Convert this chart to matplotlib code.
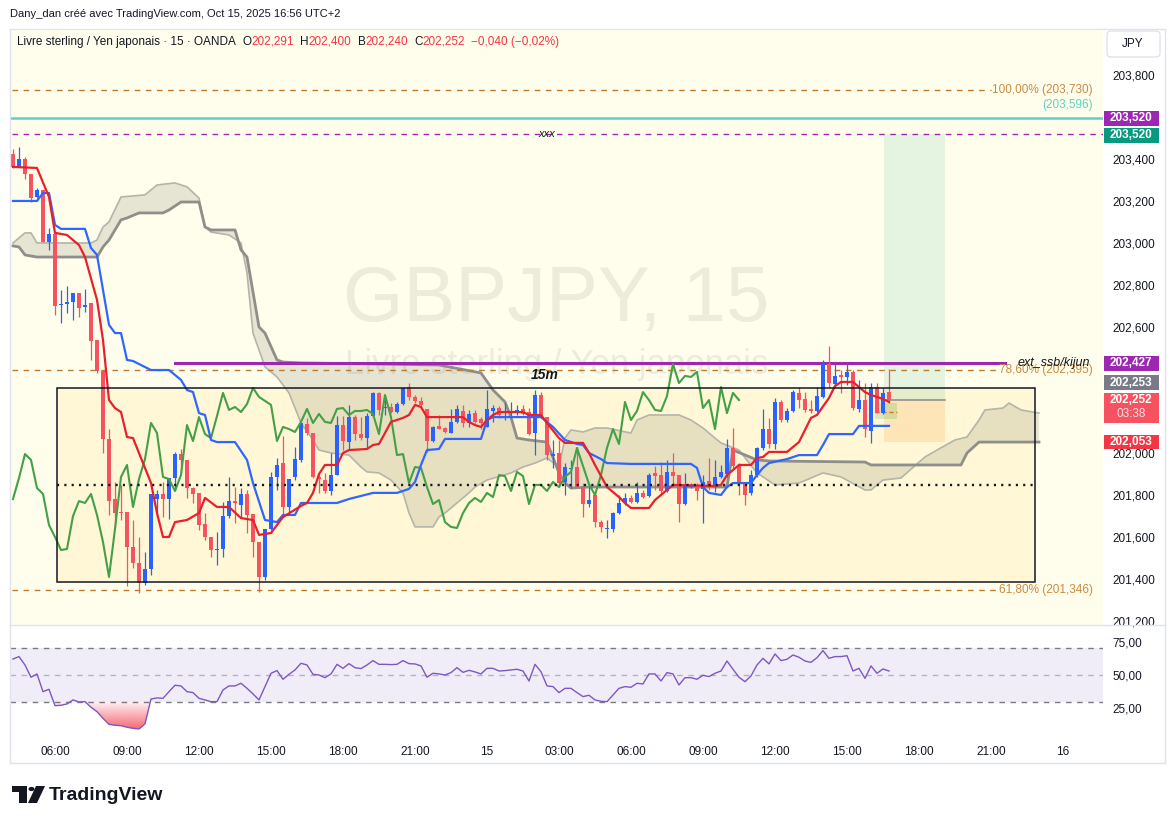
import matplotlib
matplotlib.use('Agg')
import matplotlib.pyplot as plt
import numpy as np
from matplotlib.patches import Rectangle, Polygon, FancyBboxPatch, Circle
from matplotlib.transforms import blended_transform_factory
from matplotlib.path import Path
from matplotlib.lines import Line2D
from matplotlib.colors import to_rgb

plt.rcParams['font.family'] = ['Liberation Sans', 'DejaVu Sans']

# ---- data (bar 0 = Oct 14 06:00, 15 min per bar) ----
first_bar = -7
opens = [203.424, 203.362, 203.400, 203.328, 203.219, 203.252, 203.005,
         203.043, 202.705, 202.710, 202.719, 202.762, 202.695, 202.714, 202.538, 202.390, 202.067,
         201.781, 201.719, 201.719, 201.552, 201.476, 201.381, 201.448, 201.781, 201.805, 201.781,
         201.881, 201.995, 201.967, 201.833, 201.810, 201.662, 201.600, 201.538, 201.543, 201.700,
         201.771, 201.752, 201.805, 201.710, 201.576, 201.410, 201.638, 201.886, 201.952, 201.743,
         201.886, 201.967, 202.138, 202.095, 201.886, 201.871, 201.819, 201.895, 202.133, 202.052,
         202.171, 202.090, 202.071, 202.176, 202.286, 202.214, 202.219, 202.195, 202.233, 202.314,
         202.267, 202.248, 202.210, 202.057, 202.129, 202.119, 202.095, 202.148, 202.200, 202.143,
         202.190, 202.162, 202.124, 202.200, 202.214, 202.190, 202.190, 202.190, 202.210, 202.195,
         202.095, 202.276, 202.171, 201.986, 202.000, 201.862, 201.924, 201.933, 201.838, 201.757,
         201.800, 201.671, 201.638, 201.638, 201.714, 201.762, 201.786, 201.767, 201.810, 201.795,
         201.905, 201.895, 201.819, 201.910, 201.895, 201.757, 201.838, 201.848, 201.829, 201.867,
         201.838, 201.886, 201.900, 202.024, 201.943, 201.852, 201.810, 201.895, 202.024, 202.114,
         202.043, 202.243, 202.157, 202.200, 202.286, 202.257, 202.210, 202.200, 202.267, 202.424,
         202.329, 202.371, 202.362, 202.386, 202.210, 202.252, 202.105, 202.314, 202.190, 202.291]
highs = [203.448, 203.457, 203.409, 203.328, 203.262, 203.252, 203.071,
         203.048, 202.776, 202.795, 202.762, 202.762, 202.781, 202.714, 202.538, 202.390, 202.114,
         201.862, 201.848, 201.719, 201.681, 201.600, 201.529, 201.805, 201.824, 201.862, 201.881,
         202.005, 202.019, 201.967, 201.838, 201.810, 201.714, 201.600, 201.624, 201.767, 201.886,
         201.838, 201.833, 201.824, 201.710, 201.576, 201.638, 201.910, 201.976, 202.081, 201.876,
         202.029, 202.143, 202.167, 202.095, 201.910, 201.905, 202.000, 202.176, 202.176, 202.229,
         202.181, 202.171, 202.190, 202.290, 202.290, 202.276, 202.238, 202.243, 202.310, 202.333,
         202.276, 202.267, 202.210, 202.129, 202.181, 202.124, 202.210, 202.229, 202.229, 202.205,
         202.205, 202.171, 202.300, 202.229, 202.224, 202.238, 202.243, 202.229, 202.229, 202.214,
         202.300, 202.290, 202.171, 202.062, 202.062, 201.952, 201.967, 202.029, 201.857, 201.838,
         201.800, 201.681, 201.681, 201.719, 201.800, 201.810, 201.800, 201.862, 201.824, 201.905,
         201.938, 201.957, 201.967, 202.000, 201.895, 201.905, 201.857, 201.857, 201.895, 201.976,
         201.967, 201.943, 202.067, 202.119, 201.952, 201.862, 201.919, 202.029, 202.210, 202.167,
         202.262, 202.252, 202.214, 202.300, 202.314, 202.290, 202.252, 202.314, 202.443, 202.510,
         202.429, 202.395, 202.433, 202.395, 202.348, 202.333, 202.333, 202.333, 202.310, 202.400]
lows = [203.357, 203.362, 203.305, 203.195, 203.214, 203.005, 202.967,
        202.657, 202.619, 202.667, 202.633, 202.648, 202.671, 202.443, 202.381, 202.000, 201.705,
        201.648, 201.681, 201.367, 201.452, 201.333, 201.371, 201.419, 201.695, 201.695, 201.686,
        201.824, 201.905, 201.786, 201.762, 201.633, 201.586, 201.505, 201.467, 201.505, 201.690,
        201.667, 201.695, 201.619, 201.505, 201.338, 201.395, 201.633, 201.824, 201.695, 201.719,
        201.871, 201.957, 202.086, 201.881, 201.810, 201.810, 201.800, 201.895, 202.014, 202.014,
        202.062, 202.062, 202.024, 202.171, 202.181, 202.181, 202.190, 202.190, 202.229, 202.252,
        202.238, 202.219, 202.005, 202.052, 202.114, 202.095, 202.095, 202.143, 202.124, 202.124,
        202.143, 202.114, 202.124, 202.148, 202.167, 202.157, 202.167, 202.181, 202.181, 202.086,
        201.990, 202.167, 201.967, 201.929, 201.838, 201.800, 201.833, 201.833, 201.695, 201.743,
        201.648, 201.624, 201.595, 201.624, 201.710, 201.752, 201.762, 201.762, 201.786, 201.790,
        201.824, 201.810, 201.814, 201.848, 201.671, 201.752, 201.833, 201.776, 201.667, 201.824,
        201.814, 201.881, 201.886, 201.929, 201.800, 201.752, 201.800, 201.886, 202.014, 202.024,
        202.019, 202.148, 202.148, 202.195, 202.214, 202.195, 202.190, 202.195, 202.262, 202.314,
        202.314, 202.286, 202.324, 202.205, 202.195, 202.076, 202.048, 202.190, 202.186, 202.240]
closes = [203.362, 203.400, 203.328, 203.214, 203.252, 203.005, 203.043,
          202.700, 202.710, 202.719, 202.762, 202.690, 202.705, 202.533, 202.390, 202.067, 201.771,
          201.714, 201.714, 201.552, 201.476, 201.381, 201.448, 201.805, 201.805, 201.781, 201.881,
          201.995, 201.967, 201.833, 201.805, 201.657, 201.600, 201.538, 201.543, 201.700, 201.771,
          201.762, 201.805, 201.705, 201.576, 201.410, 201.638, 201.886, 201.943, 201.743, 201.876,
          201.971, 202.143, 202.095, 201.886, 201.876, 201.819, 201.895, 202.133, 202.057, 202.171,
          202.090, 202.071, 202.176, 202.286, 202.205, 202.219, 202.195, 202.233, 202.310, 202.267,
          202.248, 202.229, 202.057, 202.124, 202.114, 202.100, 202.148, 202.210, 202.143, 202.186,
          202.148, 202.143, 202.210, 202.214, 202.181, 202.200, 202.200, 202.205, 202.186, 202.090,
          202.276, 202.171, 201.990, 201.995, 201.857, 201.933, 201.929, 201.838, 201.757, 201.776,
          201.671, 201.648, 201.643, 201.714, 201.762, 201.786, 201.767, 201.810, 201.790, 201.895,
          201.890, 201.819, 201.910, 201.890, 201.757, 201.848, 201.848, 201.819, 201.862, 201.838,
          201.886, 201.910, 202.024, 201.938, 201.852, 201.800, 201.895, 202.024, 202.114, 202.043,
          202.243, 202.157, 202.200, 202.290, 202.252, 202.205, 202.200, 202.271, 202.424, 202.333,
          202.367, 202.362, 202.386, 202.214, 202.252, 202.114, 202.314, 202.190, 202.286, 202.252]

tenkan_bar = [-7, -3, -1, 0, 2, 4, 5, 7, 8, 9, 10, 11, 12, 13, 14, 16, 17, 18, 19, 20,
              22, 24, 25, 27, 29, 31, 33, 34, 36, 38, 41, 42, 43, 44, 45, 47, 48, 49, 52, 53,
              54, 55, 56, 58, 59, 60, 61, 62, 68, 69, 70, 71, 72, 73, 74, 78, 79, 81, 82, 84,
              85, 88, 89, 90, 92, 94, 95, 96, 99, 100, 102, 103, 110, 111, 112, 114, 116, 117, 118, 119,
              122, 124, 126, 127, 129, 130, 131, 133, 134, 135, 136, 137, 138, 139]
tenkan_val = [203.362, 203.357, 203.219, 203.048, 203.038, 202.990, 202.933, 202.729, 202.538, 202.252,
              202.214, 202.195, 202.076, 202.071, 202.000, 201.857, 201.714, 201.600, 201.600, 201.671,
              201.681, 201.714, 201.786, 201.743, 201.743, 201.690, 201.681, 201.610, 201.619, 201.695,
              201.748, 201.762, 201.810, 201.900, 201.943, 201.943, 202.000, 202.014, 202.019, 202.038,
              202.043, 202.095, 202.148, 202.167, 202.181, 202.229, 202.219, 202.171, 202.171, 202.148,
              202.133, 202.124, 202.157, 202.181, 202.195, 202.195, 202.181, 202.181, 202.143, 202.071,
              202.048, 202.048, 202.000, 201.943, 201.838, 201.790, 201.762, 201.738, 201.738, 201.776,
              201.824, 201.848, 201.843, 201.848, 201.895, 201.943, 201.943, 201.976, 201.981, 202.005,
              202.005, 202.052, 202.167, 202.181, 202.262, 202.319, 202.338, 202.338, 202.314, 202.290,
              202.276, 202.267, 202.257, 202.243]

kijun_bar = [-7, -3, -2, -1, 0, 1, 5, 6, 7, 9, 10, 11, 12, 13, 16, 19, 21, 22, 23, 24,
             25, 26, 27, 30, 32, 33, 35, 37, 38, 40, 41, 47, 49, 53, 57, 59, 60, 61, 62, 64,
             65, 71, 72, 73, 81, 83, 85, 87, 88, 89, 91, 92, 96, 106, 107, 108, 109, 111, 112, 113,
             116, 117, 118, 119, 122, 124, 127, 128, 129, 133, 134, 139]
kijun_val = [203.200, 203.200, 203.238, 203.238, 203.086, 203.067, 203.067, 202.976, 202.943, 202.610,
             202.571, 202.571, 202.443, 202.438, 202.395, 202.395, 202.348, 202.300, 202.290, 202.190,
             202.181, 202.062, 202.052, 202.052, 201.967, 201.857, 201.681, 201.671, 201.705, 201.705,
             201.762, 201.762, 201.781, 201.810, 201.810, 201.829, 201.862, 201.943, 202.014, 202.019,
             202.067, 202.067, 202.157, 202.171, 202.171, 202.124, 202.062, 202.043, 202.038, 202.000,
             201.971, 201.952, 201.948, 201.948, 201.929, 201.838, 201.810, 201.800, 201.838, 201.857,
             201.857, 201.895, 201.929, 201.952, 201.971, 201.990, 201.990, 202.038, 202.090, 202.090,
             202.129, 202.129]

span_a_bar = [-7, -5, -4, -3, 6, 7, 8, 9, 11, 15, 17, 20, 22, 24, 25, 26, 29, 31, 32, 33,
              35, 37, 39, 41, 43, 44, 46, 49, 51, 52, 54, 56, 58, 59, 60, 63, 64, 65, 69, 70,
              72, 76, 78, 80, 82, 84, 85, 86, 88, 90, 92, 96, 97, 99, 104, 106, 108, 110, 111, 114,
              117, 120, 124, 128, 131, 135, 136, 138, 141, 145, 147, 150, 152, 154, 155, 158, 159, 161, 163, 164]
span_a_val = [203.000, 203.048, 203.048, 203.000, 203.000, 203.014, 203.076, 203.100, 203.219, 203.229,
              203.276, 203.286, 203.267, 203.214, 203.076, 203.052, 203.038, 203.000, 202.857, 202.571,
              202.410, 202.362, 202.286, 202.143, 202.062, 202.014, 202.000, 201.990, 201.933, 201.910,
              201.905, 201.871, 201.810, 201.714, 201.648, 201.648, 201.695, 201.714, 201.810, 201.838,
              201.871, 201.905, 201.933, 201.952, 201.976, 201.933, 202.071, 202.110, 202.100, 202.119,
              202.119, 202.095, 202.157, 202.181, 202.181, 202.157, 202.119, 202.071, 202.048, 202.014,
              201.905, 201.848, 201.857, 201.905, 201.886, 201.824, 201.824, 201.871, 201.881, 201.981,
              202.014, 202.062, 202.076, 202.157, 202.205, 202.214, 202.238, 202.205, 202.195, 202.190]
span_b_bar = [-7, -6, -5, -3, 7, 8, 9, 11, 12, 14, 18, 19, 21, 24, 25, 26, 30, 31, 32, 34,
              35, 37, 38, 41, 64, 71, 73, 75, 76, 77, 79, 82, 84, 85, 86, 89, 112, 113, 117, 119,
              135, 136, 151, 152, 154, 164]
span_b_val = [202.986, 202.981, 202.943, 202.933, 202.933, 202.981, 203.014, 203.110, 203.119, 203.143,
              203.143, 203.157, 203.195, 203.195, 203.076, 203.062, 203.062, 202.967, 202.933, 202.600,
              202.571, 202.443, 202.433, 202.429, 202.419, 202.381, 202.300, 202.243, 202.171, 202.071,
              202.062, 202.052, 201.905, 201.857, 201.833, 201.838, 201.838, 202.014, 201.967, 201.962,
              201.957, 201.943, 201.943, 202.000, 202.052, 202.052]
chikou_shift = 25

rsi = [62.0, 63.8, 57.5, 48.3, 50.8, 37.5, 39.3,
       27.0, 27.3, 28.3, 31.3, 29.8, 30.0, 25.8, 22.5, 17.5, 13.0,
       12.3, 12.0, 10.8, 10.0, 9.5, 13.3, 32.0, 32.8, 32.5, 37.5,
       42.3, 41.8, 37.5, 36.8, 32.5, 31.3, 30.0, 30.0, 38.8, 41.8,
       41.8, 43.8, 40.0, 35.8, 31.3, 41.3, 51.3, 53.3, 46.8, 50.5,
       53.8, 58.8, 57.5, 50.5, 50.0, 48.0, 50.8, 58.0, 55.0, 58.5,
       55.5, 54.8, 57.5, 60.8, 58.0, 58.0, 57.8, 58.0, 60.8, 58.5,
       58.3, 56.8, 48.3, 51.3, 50.8, 50.0, 51.8, 55.5, 52.0, 53.5,
       52.3, 50.8, 55.0, 55.0, 53.0, 53.3, 53.8, 54.3, 53.0, 45.5,
       58.0, 52.5, 41.8, 41.3, 36.8, 40.0, 40.0, 36.8, 33.8, 34.8,
       31.3, 30.3, 30.0, 35.0, 40.0, 41.3, 40.8, 43.8, 43.3, 50.8,
       50.8, 45.5, 51.8, 50.8, 42.5, 48.0, 48.0, 46.8, 49.8, 48.8,
       51.3, 53.0, 60.5, 54.3, 48.3, 45.0, 49.3, 57.5, 62.5, 58.3,
       65.8, 60.8, 61.8, 65.0, 63.3, 60.5, 59.5, 63.0, 68.3, 62.5,
       63.8, 63.8, 64.5, 53.0, 55.0, 47.5, 56.8, 51.3, 54.5, 53.0]

time_ticks = [0, 12, 24, 36, 48, 60, 72, 84, 96, 108, 120, 132, 144, 156, 168]
time_labels = ['06:00', '09:00', '12:00', '15:00', '18:00', '21:00', '15', '03:00',
               '06:00', '09:00', '12:00', '15:00', '18:00', '21:00', '16']
# price levels whose axis labels are hidden behind the coloured tags
hidden_ticks = [202.2, 202.4, 203.6]

fib_100 = 203.730
fib_786 = 202.395
fib_618 = 201.346
teal_level = 203.596
target_level = 203.520
ssb_level = 202.427
entry_level = 202.253
stop_level = 202.053
range_top = 202.310
range_bottom = 201.386
range_mid = 201.848

BULL = '#2962ff'
BEAR = '#f7525f'
TXT = '#131722'
CREAM = '#fffeec'
PURPLE = '#9c27b0'
FIB = '#c07a2e'

W, H = 1175, 824
fig = plt.figure(figsize=(W / 100, H / 100), dpi=100)
fig.patch.set_facecolor('white')


def fx(px):
    return px / W


def fy(py):
    return 1 - py / H


ax = fig.add_axes([fx(10), fy(625), fx(1103) - fx(10), fy(30) - fy(625)])
rx = fig.add_axes([fx(10), fy(736), fx(1103) - fx(10), fy(625) - fy(736)])
XMIN, XMAX = -7.5, 174.67
YMIN, YMAX = 201.181, 204.014
ppx = 595 / (YMAX - YMIN)

ax.set_facecolor(CREAM)
for a in (ax, rx):
    for s in a.spines.values():
        s.set_visible(False)

bars = np.arange(first_bar, first_bar + len(opens))
o = np.array(opens)
hi = np.array(highs)
lo = np.array(lows)
c = np.array(closes)

# watermark
ax.text(0.5, 0.546, 'GBPJPY, 15', transform=ax.transAxes, ha='center', va='center',
        fontsize=56, color='#ecebdc', zorder=0.5)
ax.text(0.5, 0.437, 'Livre sterling / Yen japonais', transform=ax.transAxes, ha='center',
        va='center', fontsize=25, color='#ecebdc', zorder=0.5)

# range box
ax.add_patch(Rectangle((0.33, range_bottom), 163.0, range_top - range_bottom,
                       facecolor='#fff3c4', alpha=0.55, edgecolor='none', zorder=1))
ax.add_patch(Rectangle((0.33, range_bottom), 163.0, range_top - range_bottom,
                       facecolor='none', edgecolor='#131722', lw=1.1, zorder=6))
ax.plot([0.33, 163.33], [range_mid, range_mid], color='#131722', lw=1.7,
        linestyle=(0, (0.9, 2.2)), zorder=6)
ax.text(81.7, 202.371, '15m', fontsize=10, fontweight='bold', style='italic',
        color=TXT, ha='center', va='center', zorder=7)

# long position tool
ax.add_patch(Rectangle((138.2, entry_level), 10.1, target_level - entry_level,
                       facecolor='#089981', alpha=0.1, edgecolor='none', zorder=1.2))
ax.add_patch(Rectangle((138.2, stop_level), 10.1, entry_level - stop_level,
                       facecolor='#f57c00', alpha=0.14, edgecolor='none', zorder=1.2))
ax.plot([138.2, 148.3], [entry_level, entry_level], color='#8a8a8a', lw=1.1, zorder=1.3)
ax.add_patch(Rectangle((136.7, 202.162), 3.6, 0.076, facecolor='#4caf50', alpha=0.22,
                       edgecolor='none', zorder=1.3))
ax.plot([136.7, 140.3], [202.195, 202.195], color='#e07020', lw=1, linestyle=(0, (3, 2)), zorder=1.4)

# ichimoku cloud
cloud = Polygon(list(zip(span_a_bar, span_a_val)) + list(zip(span_b_bar, span_b_val))[::-1],
                closed=True, facecolor='#787864', alpha=0.18, edgecolor='none', zorder=2)
ax.add_patch(cloud)
ax.plot(span_a_bar, span_a_val, color='#b4b4aa', lw=1.2, zorder=2.1)
ax.plot(span_b_bar, span_b_val, color='#8e8e8a', lw=2.0, zorder=2.1)

# fib / horizontal levels
ax.plot([-7.2, 156], [fib_100, fib_100], color=FIB, lw=1, linestyle=(0, (4, 4)), zorder=3)
ax.plot([-7.2, 157.5], [fib_786, fib_786], color=FIB, lw=1, linestyle=(0, (4, 4)), zorder=3)
ax.plot([-7.2, 157.3], [fib_618, fib_618], color=FIB, lw=1, linestyle=(0, (4, 4)), zorder=3)
ax.axhline(teal_level, color='#5cd0c6', lw=1.8, zorder=3)
ax.plot([-7.2, XMAX], [target_level, target_level], color=PURPLE, lw=1, linestyle=(0, (4, 4)), zorder=3)
ax.plot([20, 158.3], [ssb_level, ssb_level], color=PURPLE, lw=2.2, zorder=3.2)
ax.text(82, target_level, 'xxx', fontsize=8, style='italic', color=TXT, ha='center',
        va='center', zorder=7)

lab_tr = blended_transform_factory(ax.transAxes, ax.transData)
ax.text((1093 - 10) / 1093, fib_100, '100,00% (203,730)', transform=lab_tr, ha='right',
        va='center', fontsize=8.5, color='#c98a44', zorder=7)
ax.text((1093 - 10) / 1093, teal_level + 13 / ppx, '(203,596)', transform=lab_tr, ha='right',
        va='center', fontsize=8.5, color='#5cd0c6', zorder=7)
ax.text((1093 - 10) / 1093, fib_786, '78,60% (202,395)', transform=lab_tr, ha='right',
        va='center', fontsize=8.5, color='#c98a44', zorder=7)
ax.text((1093 - 10) / 1093, fib_618, '61,80% (201,346)', transform=lab_tr, ha='right',
        va='center', fontsize=8.5, color='#c98a44', zorder=7)
ax.text((1090 - 10) / 1093, ssb_level, 'ext_ssb/kijun', transform=lab_tr, ha='right',
        va='center', fontsize=9, style='italic', color=TXT, zorder=7.5)

# candles
cols = np.where(c >= o, BULL, BEAR)
ax.vlines(bars, lo, hi, colors=cols, lw=0.9, zorder=4)
ax.bar(bars, np.maximum(np.abs(c - o), 0.004), bottom=np.minimum(o, c), width=0.68,
       color=cols, linewidth=0, zorder=4.1)

# ichimoku lines
ax.plot(bars[:-chikou_shift], c[chikou_shift:], color='#43a047', lw=1.5, zorder=5)
ax.plot(kijun_bar, kijun_val, color='#2f66ff', lw=1.6, zorder=5.1)
ax.plot(tenkan_bar, tenkan_val, color='#e8202c', lw=1.6, zorder=5.2)

ax.set_xlim(XMIN, XMAX)
ax.set_ylim(YMIN, YMAX)
ax.set_xticks([])
ticks = np.round(np.arange(201.2, 203.81, 0.2), 1)
ax.set_yticks(ticks, ['' if t in hidden_ticks else f'{t:.3f}'.replace('.', ',') for t in ticks])
ax.yaxis.tick_right()
ax.tick_params(axis='y', length=0, pad=7, labelsize=8.5, labelcolor=TXT)


# price tags on the axis
def tag(price, text, bg, shift_px=0.0, hgt_px=15, sub=None):
    y = price + shift_px / ppx
    top = y + 7.5 / ppx
    ax.add_patch(Rectangle((1.0008, top - hgt_px / ppx), 55 / 1093, hgt_px / ppx, transform=lab_tr,
                           facecolor=bg, edgecolor='none', clip_on=False, zorder=20))
    ax.text(1.0008 + 27.5 / 1093, y, text, transform=lab_tr, ha='center', va='center',
            color='white', fontsize=8.5, fontweight='bold', clip_on=False, zorder=21)
    if sub:
        ax.text(1.0008 + 27.5 / 1093, y - 14 / ppx, sub, transform=lab_tr, ha='center',
                va='center', color='#ffe0e3', fontsize=8.5, clip_on=False, zorder=21)


tag(target_level, '203,520', PURPLE, shift_px=15.5)
tag(target_level, '203,520', '#089981', shift_px=-1.5)
tag(ssb_level, '202,427', PURPLE)
tag(entry_level, '202,253', '#787b86', shift_px=17)
tag(c[-1], '202,252', BEAR, shift_px=0, hgt_px=30, sub='03:38')
tag(stop_level, '202,053', '#f23645', shift_px=-0.5, hgt_px=14)

# RSI pane
rsi_a = np.array(rsi)
rx.set_facecolor('white')
rx.fill_between([XMIN, XMAX], 30, 70, color='#7e57c2', alpha=0.1, linewidth=0, zorder=1)
for lvl, al in ((70, 1.0), (50, 0.5), (30, 1.0)):
    rx.axhline(lvl, color='#787b86', lw=1, linestyle=(0, (4, 4)), alpha=al, zorder=1.5)
low_zone = rx.fill_between(bars, rsi_a, 30, where=rsi_a < 30, interpolate=True,
                           color='none', linewidth=0)
clip = Path.make_compound_path(*low_zone.get_paths())
grad = np.zeros((256, 1, 4))
grad[..., :3] = to_rgb('#f23645')
grad[:, 0, 3] = np.linspace(0.8, 0.05, 256)
img = rx.imshow(grad, extent=(XMIN, XMAX, 8, 30), origin='lower', aspect='auto', zorder=2)
img.set_clip_path(clip, rx.transData)
rx.plot(bars, rsi_a, color='#7e57c2', lw=1.0, zorder=3)
rx.set_xlim(XMIN, XMAX)
rx.set_ylim(4.25, 87.5)
rx.set_yticks([25, 50, 75], ['25,00', '50,00', '75,00'])
rx.yaxis.tick_right()
rx.tick_params(axis='y', length=0, pad=7, labelsize=8.5, labelcolor=TXT)
rx.set_xticks(time_ticks, time_labels)
rx.tick_params(axis='x', length=0, pad=7, labelsize=8.5, labelcolor=TXT)

# frame lines
for (x0, y0, x1, y1) in ((10, 29, 1165, 29), (10, 763, 1165, 763), (10, 29, 10, 763),
                         (1165, 29, 1165, 763), (10, 625, 1165, 625)):
    fig.add_artist(Line2D([fx(x0), fx(x1)], [fy(y0), fy(y1)], color='#e0e3eb', lw=1,
                          transform=fig.transFigure))

# JPY box
fig.add_artist(FancyBboxPatch((fx(1107), fy(57)), fx(53), 26 / H, boxstyle='round,pad=0,rounding_size=0.004',
                              facecolor='white', edgecolor='#e0e3eb', lw=1, transform=fig.transFigure))
fig.text(fx(1133), fy(44), 'JPY', ha='center', va='center', fontsize=8.5, color=TXT)

# header and legend
fig.text(fx(10), fy(14), 'Dany_dan créé avec TradingView.com, Oct 15, 2025 16:56 UTC+2',
         ha='left', va='center', fontsize=8, color=TXT)
renderer = fig.canvas.get_renderer()
pieces = [('Livre sterling / Yen japonais · 15 · OANDA', TXT, 7),
          ('O', TXT, 0), (f'{opens[-1]:.3f}'.replace('.', ','), '#f23645', 6),
          ('H', TXT, 0), (f'{highs[-1]:.3f}'.replace('.', ','), '#f23645', 6),
          ('B', TXT, 0), (f'{lows[-1]:.3f}'.replace('.', ','), '#f23645', 6),
          ('C', TXT, 0), (f'{closes[-1]:.3f}'.replace('.', ','), '#f23645', 6),
          ('\u22120,040 (\u22120,02%)', '#f23645', 0)]
xp = 17
for txt, col, gap in pieces:
    t = fig.text(fx(xp), fy(42), txt, ha='left', va='center', fontsize=8.5, color=col)
    xp += t.get_window_extent(renderer).width + gap

# TradingView logo
logo = [Polygon([(fx(12), fy(786)), (fx(27), fy(786)), (fx(27), fy(803)), (fx(19.5), fy(803)),
                 (fx(19.5), fy(792)), (fx(12), fy(792))], closed=True),
        Polygon([(fx(36), fy(786)), (fx(45), fy(786)), (fx(37), fy(803)), (fx(28), fy(803))], closed=True)]
for p in logo:
    p.set_facecolor(TXT)
    p.set_edgecolor('none')
    p.set_transform(fig.transFigure)
    fig.add_artist(p)
fig.add_artist(Circle((fx(31.5), fy(789)), 3 / W, facecolor=TXT, edgecolor='none',
                      transform=fig.transFigure))
fig.text(fx(49), fy(795), 'TradingView', ha='left', va='center', fontsize=14,
         fontweight='bold', color=TXT)

fig.savefig('out.png', dpi=100)
